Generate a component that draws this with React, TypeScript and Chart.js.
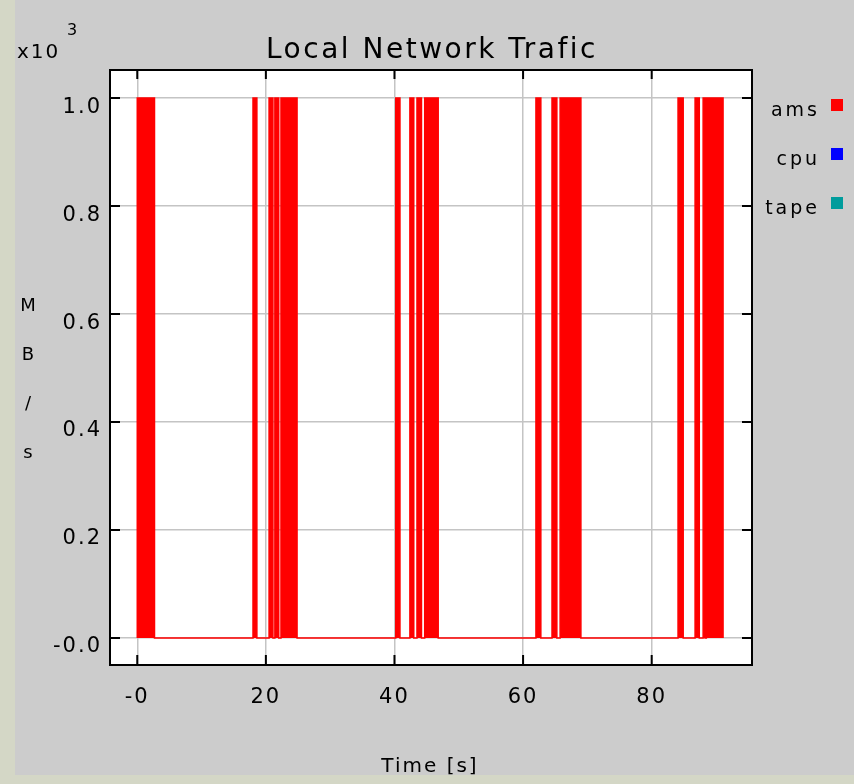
import { useEffect, useRef } from "react";
import { Chart, registerables } from "chart.js";

Chart.register(...registerables);

// Series shown in the legend
const seriesNames = ["ams", "cpu", "tape"];
const seriesColors = ["#ff0000", "#0000ff", "#009c9c"];

// ams transfer bursts: start and end time (s) of each full-rate interval
const amsBurstStart = [0, 18.0, 20.5, 21.4, 22.35, 40.2, 42.4, 43.5, 44.7, 62.0, 64.5, 65.76, 84.1, 86.75, 88.0, 88.5];
const amsBurstEnd = [2.68, 18.6, 21.1, 22.0, 24.85, 40.85, 43.0, 44.2, 46.8, 62.76, 65.25, 68.99, 84.9, 87.4, 88.3, 91.1];
const amsPeak = 1000; // MB/s

// Axis ticks
const xTicks = [0, 20, 40, 60, 80];
const xTickLabels = ["-0", "20", "40", "60", "80"];
const yTicks = [0, 200, 400, 600, 800, 1000];
const yTickLabels = ["-0.0", "0.2", "0.4", "0.6", "0.8", "1.0"];

const FONT = "DejaVu Sans";

function buildSteps(starts: number[], ends: number[], peak: number) {
  const pts: { x: number; y: number }[] = [];
  starts.forEach((s, i) => {
    const e = ends[i];
    pts.push({ x: s, y: 0 }, { x: s, y: peak }, { x: e, y: peak }, { x: e, y: 0 });
  });
  return pts;
}

const framePlugin = {
  id: "frame",
  beforeDraw(chart: any) {
    const { ctx, width, height, chartArea: a } = chart;
    ctx.save();
    ctx.fillStyle = "#cccccc";
    ctx.fillRect(0, 0, width, height);
    ctx.fillStyle = "#d4d7c6";
    ctx.fillRect(0, 0, 15, height);
    ctx.fillRect(0, 775, width, height - 775);
    ctx.fillStyle = "#ffffff";
    ctx.fillRect(a.left, a.top, a.right - a.left, a.bottom - a.top);
    ctx.restore();
    ctx.letterSpacing = "2px";
  },
  afterDraw(chart: any) {
    const { ctx, chartArea: a, scales } = chart;
    const xs = scales.x;
    const ys = scales.y;
    ctx.save();
    // inner tick marks
    ctx.strokeStyle = "#000";
    ctx.lineWidth = 2;
    ctx.beginPath();
    xTicks.forEach((v) => {
      const px = xs.getPixelForValue(v);
      ctx.moveTo(px, a.top);
      ctx.lineTo(px, a.top + 9);
      ctx.moveTo(px, a.bottom);
      ctx.lineTo(px, a.bottom - 10);
    });
    yTicks.forEach((v) => {
      const py = ys.getPixelForValue(v);
      ctx.moveTo(a.left, py);
      ctx.lineTo(a.left + 10, py);
      ctx.moveTo(a.right, py);
      ctx.lineTo(a.right - 10, py);
    });
    ctx.stroke();
    // plot border
    ctx.strokeRect(a.left, a.top, a.right - a.left, a.bottom - a.top);

    ctx.fillStyle = "#000";
    ctx.textBaseline = "alphabetic";

    // title
    ctx.font = `28px "${FONT}"`;
    ctx.letterSpacing = "2.5px";
    ctx.textAlign = "center";
    ctx.fillText("Local Network Trafic", (a.left + a.right) / 2 + 1, 58);

    // exponent
    ctx.font = `20px "${FONT}"`;
    ctx.letterSpacing = "2px";
    ctx.textAlign = "left";
    ctx.fillText("x10", 17, 58);
    ctx.font = `16px "${FONT}"`;
    ctx.fillText("3", 67, 35);

    // y axis title, one letter per line
    ctx.font = `18px "${FONT}"`;
    ctx.letterSpacing = "0px";
    ctx.textAlign = "center";
    ctx.textBaseline = "middle";
    ["M", "B", "/", "s"].forEach((ch, i) => ctx.fillText(ch, 28, 306 + i * 49));

    // x axis title
    ctx.font = `20px "${FONT}"`;
    ctx.letterSpacing = "2px";
    ctx.fillText("Time [s]", 430, 767);

    // legend
    ctx.font = `19px "${FONT}"`;
    ctx.letterSpacing = "3px";
    ctx.textBaseline = "alphabetic";
    chart.data.datasets.forEach((ds: any, i: number) => {
      const base = 116 + i * 49;
      ctx.textAlign = "right";
      ctx.fillStyle = "#000";
      ctx.fillText(ds.label, 820, base);
      ctx.fillStyle = ds.borderColor;
      ctx.fillRect(831, base - 17, 12, 12);
    });
    ctx.restore();
  },
};

export default function App() {
  const ref = useRef<HTMLCanvasElement>(null);

  useEffect(() => {
    document.body.style.margin = "0";
    document.body.style.background = "#cccccc";
    const canvas = ref.current!;
    const chart = new Chart(canvas, {
      type: "line",
      data: {
        datasets: [
          {
            label: seriesNames[0],
            data: buildSteps(amsBurstStart, amsBurstEnd, amsPeak),
            borderColor: seriesColors[0],
            backgroundColor: seriesColors[0],
            borderWidth: 1.5,
            pointRadius: 0,
            fill: "origin",
            tension: 0,
          },
          {
            label: seriesNames[1],
            data: [],
            borderColor: seriesColors[1],
            backgroundColor: seriesColors[1],
            pointRadius: 0,
          },
          {
            label: seriesNames[2],
            data: [],
            borderColor: seriesColors[2],
            backgroundColor: seriesColors[2],
            pointRadius: 0,
          },
        ],
      },
      options: {
        responsive: false,
        animation: false,
        events: [],
        layout: { padding: { top: 70, right: 102, left: 0, bottom: 0 } },
        plugins: { legend: { display: false }, title: { display: false }, tooltip: { enabled: false } },
        scales: {
          x: {
            type: "linear",
            min: -4.24,
            max: 95.6,
            afterFit: (s: any) => {
              s.height = 119;
            },
            afterBuildTicks: (s: any) => {
              s.ticks = xTicks.map((v) => ({ value: v }));
            },
            grid: { color: "#c4c4c4", lineWidth: 1.5, drawTicks: false },
            border: { display: false },
            ticks: {
              padding: 20,
              maxRotation: 0,
              autoSkip: false,
              color: "#000",
              font: { family: FONT, size: 21 },
              callback: (_v: any, i: number) => xTickLabels[i],
            },
          },
          y: {
            type: "linear",
            min: -50,
            max: 1052,
            afterFit: (s: any) => {
              s.width = 110;
            },
            afterBuildTicks: (s: any) => {
              s.ticks = yTicks.map((v) => ({ value: v }));
            },
            grid: { color: "#c4c4c4", lineWidth: 1.5, drawTicks: false },
            border: { display: false },
            ticks: {
              padding: 8,
              labelOffset: 9,
              autoSkip: false,
              color: "#000",
              font: { family: FONT, size: 21 },
              callback: (_v: any, i: number) => yTickLabels[i],
            },
          },
        },
      },
      plugins: [framePlugin],
    });
    return () => chart.destroy();
  }, []);

  return <canvas ref={ref} width={854} height={784} style={{ display: "block" }} />;
}
